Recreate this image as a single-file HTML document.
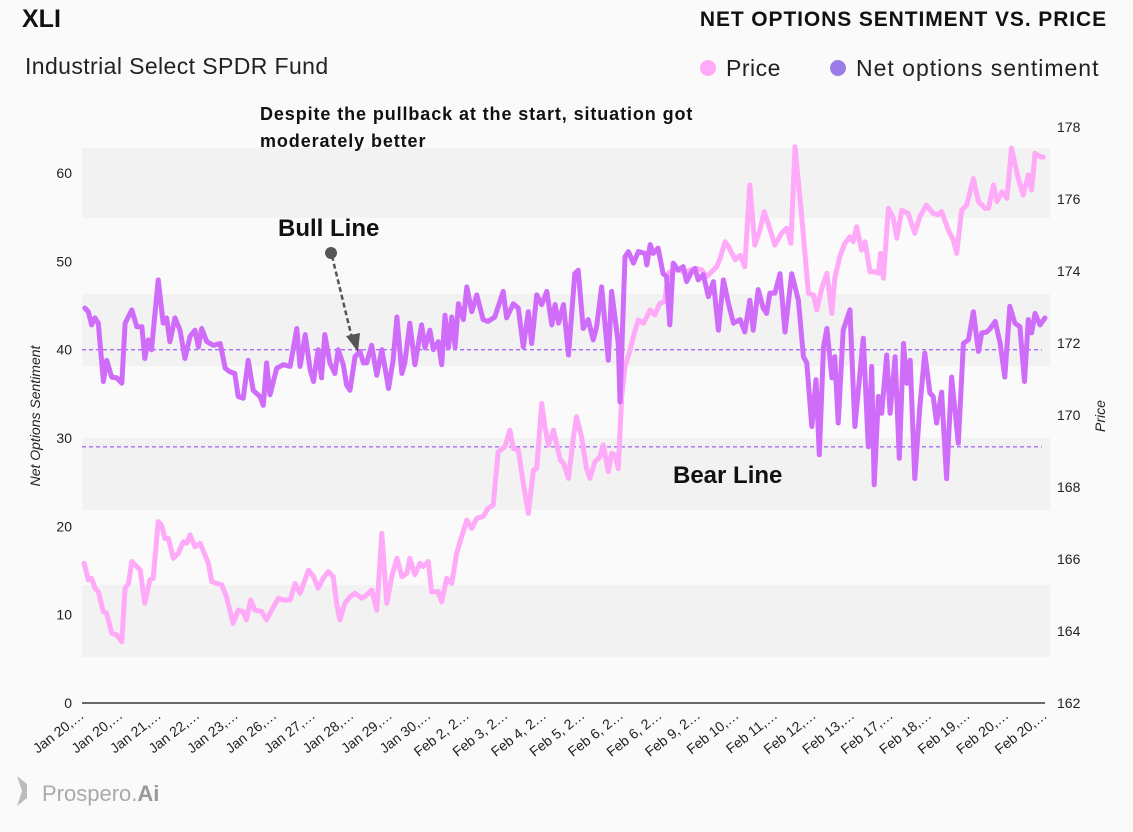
<!DOCTYPE html>
<html><head><meta charset="utf-8"><style>
body{margin:0;background:#fafafa;width:1133px;height:832px;overflow:hidden;font-family:"Liberation Sans",sans-serif}
svg{display:block}
</style></head><body>
<svg id="chart" width="1133" height="832" viewBox="0 0 1133 832" xmlns="http://www.w3.org/2000/svg">
<rect width="1133" height="832" fill="#fafafa"/>
<g id="bands">
<rect x="82" y="148" width="968" height="70" fill="#f2f2f2"/>
<rect x="82" y="294" width="968" height="72" fill="#f2f2f2"/>
<rect x="82" y="438" width="968" height="72" fill="#f2f2f2"/>
<rect x="82" y="585" width="968" height="72" fill="#f2f2f2"/>
</g>
<text x="22" y="27" font-size="25" font-weight="bold" fill="#111">XLI</text>
<text x="25" y="74" font-size="23" letter-spacing="0.4" fill="#222">Industrial Select SPDR Fund</text>
<text x="1107" y="26" font-size="21" font-weight="bold" letter-spacing="0.9" fill="#111" text-anchor="end">NET OPTIONS SENTIMENT VS. PRICE</text>
<g>
<circle cx="708" cy="68" r="8" fill="#ffaaf8"/>
<text x="726" y="76" font-size="23" letter-spacing="0.5" fill="#222">Price</text>
<circle cx="838" cy="68" r="8" fill="#9b7be8"/>
<text x="856" y="76" font-size="23" letter-spacing="1" fill="#222">Net options sentiment</text>
</g>
<text font-size="18" font-weight="bold" letter-spacing="0.9" fill="#111"><tspan x="260" y="120">Despite the pullback at the start, situation got</tspan><tspan x="260" y="147">moderately better</tspan></text>
<text transform="translate(40,416) rotate(-90)" font-size="14" font-style="italic" fill="#222" text-anchor="middle">Net Options Sentiment</text>
<text transform="translate(1105,416) rotate(-90)" font-size="14" font-style="italic" fill="#222" text-anchor="middle">Price</text>
<g id="axes"></g>
<g id="lines"></g>
<g id="annots"></g>
<g>
<path d="M17 776 L27 784 L27 798 L17 806 L22 791 Z" fill="#bbb"/>
<text x="42" y="801" font-size="22" fill="#aaa">Prospero.<tspan font-weight="bold" fill="#999">Ai</tspan></text>
</g>
</svg>
<script>
const xLabels=["Jan 20,…","Jan 20,…","Jan 21,…","Jan 22,…","Jan 23,…","Jan 26,…","Jan 27,…","Jan 28,…","Jan 29,…","Jan 30,…","Feb 2, 2…","Feb 3, 2…","Feb 4, 2…","Feb 5, 2…","Feb 6, 2…","Feb 6, 2…","Feb 9, 2…","Feb 10,…","Feb 11,…","Feb 12,…","Feb 13,…","Feb 17,…","Feb 18,…","Feb 19,…","Feb 20,…","Feb 20,…"];
const leftTicks=[0,10,20,30,40,50,60];
const rightTicks=[162,164,166,168,170,172,174,176,178];
const bullLine=40;
const bearLine=29;
const sentT=[.07,.15,.23,.31,.39,.51,.59,.71,.83,.95,1.03,1.19,1.31,1.43,1.50,1.58,1.66,1.82,1.94,2.02,2.10,2.22,2.34,2.46,2.58,2.70,2.78,2.86,2.98,3.14,3.30,3.42,3.53,3.65,3.73,3.85,3.97,4.09,4.25,4.33,4.41,4.49,4.65,4.81,4.97,5.13,5.21,5.33,5.45,5.53,5.64,5.72,5.80,5.92,6.04,6.12,6.24,6.32,6.40,6.52,6.64,6.72,6.80,6.92,7.04,7.16,7.24,7.32,7.43,7.52,7.64,7.71,7.83,7.95,8.11,8.19,8.31,8.39,8.51,8.59,8.67,8.75,8.83,8.91,8.99,9.11,9.19,9.31,9.43,9.58,9.70,9.86,10.06,10.14,10.30,10.42,10.54,10.66,10.74,10.86,10.98,11.10,11.22,11.30,11.38,11.50,11.62,11.77,11.85,11.97,12.09,12.21,12.29,12.41,12.57,12.65,12.81,12.85,12.97,13.05,13.17,13.29,13.45,13.49,13.57,13.64,13.76,13.88,13.96,14.04,14.12,14.24,14.36,14.44,14.56,14.64,14.72,14.84,14.96,15.08,15.20,15.32,15.44,15.56,15.72,15.83,15.95,16.03,16.15,16.27,16.35,16.43,16.55,16.67,16.79,16.95,17.11,17.23,17.31,17.43,17.53,17.61,17.71,17.79,17.91,17.98,18.06,18.18,18.34,18.46,18.66,18.78,18.86,18.92,19.02,19.10,19.22,19.30,19.42,19.52,19.62,19.70,19.78,19.89,20.01,20.13,20.25,20.33,20.41,20.53,20.65,20.77,20.93,21.05,21.17,21.29,21.41,21.49,21.61,21.69,21.81,21.93,22.04,22.16,22.28,22.40,22.51,22.60,22.68,22.76,22.88,23.00];
const sentV=[44.7,44.3,42.8,43.6,43.0,36.4,38.8,36.9,36.8,36.2,43.0,44.5,42.6,42.6,39.0,41.1,40.0,47.9,43.0,43.6,40.9,43.6,42.2,39.0,41.5,42.2,40.3,42.4,40.9,40.5,40.7,37.9,37.5,37.3,34.7,34.5,38.8,35.4,34.7,33.7,38.5,34.9,37.9,38.3,38.1,42.4,38.1,41.7,37.7,36.4,40.0,36.8,41.7,38.5,37.3,40.0,38.3,36.0,35.4,39.2,39.8,38.5,38.5,40.5,37.1,40.0,37.9,35.6,38.8,43.7,37.3,38.5,43.0,38.3,42.8,40.2,42.2,40.0,40.9,38.3,43.9,40.2,43.7,40.3,45.2,43.4,47.1,44.3,46.2,43.4,43.2,43.7,46.6,43.6,45.2,44.7,40.3,44.3,40.7,46.2,45.1,46.6,42.8,45.1,43.0,45.1,39.4,48.6,49.0,42.4,43.4,41.1,42.6,47.1,38.8,46.6,40.7,34.1,50.5,51.1,49.8,51.1,50.9,49.6,51.9,50.9,51.5,48.6,48.3,42.8,49.8,49.0,49.4,47.7,48.8,49.2,47.9,48.5,46.0,47.7,42.2,47.9,45.2,43.0,43.4,42.0,45.6,42.2,46.8,44.7,44.1,46.4,46.4,48.6,42.0,48.6,45.6,39.2,38.5,31.3,36.6,28.1,40.3,42.4,36.8,39.2,31.7,42.2,44.5,31.3,41.3,29.0,38.1,24.7,34.7,32.8,39.4,32.8,39.2,27.7,40.7,36.2,38.8,25.4,33.5,39.6,35.1,34.7,31.7,35.2,25.4,36.9,29.4,40.7,41.1,44.3,39.8,41.9,42.0,42.4,43.2,40.7,36.9,44.9,43.0,42.6,36.4,43.4,41.9,44.1,42.8,43.6];
const priceT=[.05,.15,.23,.31,.39,.51,.59,.71,.83,.95,1.03,1.11,1.19,1.31,1.39,1.50,1.62,1.70,1.82,1.90,1.98,2.06,2.18,2.30,2.42,2.50,2.58,2.70,2.82,3.02,3.10,3.22,3.34,3.45,3.61,3.73,3.85,3.93,4.03,4.13,4.29,4.41,4.53,4.69,4.81,4.97,5.09,5.21,5.41,5.53,5.64,5.76,5.88,6.00,6.08,6.16,6.28,6.40,6.52,6.68,6.80,6.92,7.04,7.16,7.28,7.40,7.52,7.64,7.76,7.83,7.95,8.07,8.15,8.27,8.35,8.51,8.59,8.71,8.83,8.95,9.03,9.19,9.31,9.43,9.58,9.70,9.82,9.94,10.10,10.22,10.30,10.42,10.54,10.66,10.78,10.86,10.98,11.06,11.14,11.26,11.42,11.50,11.62,11.74,11.81,11.93,12.05,12.13,12.25,12.37,12.45,12.57,12.65,12.73,12.81,12.89,12.97,13.09,13.21,13.29,13.41,13.57,13.68,13.80,13.92,14.00,14.12,14.28,14.40,14.52,14.68,14.80,14.92,15.04,15.16,15.24,15.36,15.44,15.60,15.72,15.83,15.95,16.07,16.19,16.29,16.39,16.55,16.71,16.83,16.93,17.03,17.19,17.35,17.47,17.55,17.67,17.79,17.91,17.98,18.10,18.22,18.34,18.42,18.50,18.62,18.70,18.82,18.94,19.02,19.07,19.14,19.26,19.38,19.46,19.58,19.73,19.89,20.01,20.17,20.33,20.45,20.53,20.69,20.81,20.89,21.01,21.13,21.29,21.41,21.57,21.65,21.77,21.85,21.97,22.09,22.20,22.36,22.48,22.60,22.68,22.76,22.88,22.96];
const priceV=[165.88,165.42,165.46,165.19,165.09,164.54,164.49,163.94,163.89,163.70,165.19,165.32,165.93,165.79,165.69,164.77,165.42,165.46,167.04,166.94,166.57,166.57,166.02,166.16,166.48,166.44,166.67,166.34,166.44,165.88,165.37,165.32,165.28,164.95,164.21,164.58,164.54,164.31,164.86,164.58,164.54,164.31,164.58,164.91,164.86,164.86,165.32,165.05,165.69,165.51,165.19,165.46,165.65,165.51,164.77,164.31,164.77,164.95,165.05,164.91,165.00,165.14,164.58,166.71,164.77,165.51,166.02,165.51,165.60,166.02,165.56,165.88,165.79,165.93,165.09,165.09,164.81,165.46,165.32,166.16,166.48,167.08,166.85,167.13,167.18,167.41,167.50,168.98,169.12,169.58,169.07,169.03,168.10,167.27,168.47,168.51,170.32,169.63,169.17,169.58,168.75,168.66,168.24,169.40,169.95,169.40,168.51,168.24,168.70,168.84,169.17,168.43,168.94,168.89,168.51,170.51,171.34,171.81,172.36,172.64,172.55,172.92,172.78,173.10,173.15,173.94,174.03,174.03,173.94,174.03,174.07,174.03,173.84,173.98,174.12,174.35,174.81,174.68,174.31,174.44,174.12,176.39,174.72,175.14,175.65,175.32,174.72,175.05,175.19,174.77,177.45,175.51,173.38,173.33,172.92,173.52,173.94,172.82,173.80,174.40,174.77,174.95,174.81,175.23,174.58,174.81,173.98,173.98,173.94,174.49,173.80,175.74,175.46,174.91,175.69,175.60,175.05,175.51,175.83,175.60,175.56,175.65,175.14,174.86,174.49,175.69,175.83,176.57,175.93,175.74,175.74,176.39,175.93,176.20,176.02,177.41,176.57,176.11,176.67,176.25,177.27,177.18,177.16];

const NS="http://www.w3.org/2000/svg";
const X0=82,X1=1045,Y0=703;
function xs(t){return X0+(X1-X0)*t/23;}
function yl(v){return Y0-v*(Y0-173)/60;}
function yr(p){return Y0-(p-162)*(Y0-127)/16;}
function mk(tag,attrs,parent){const e=document.createElementNS(NS,tag);for(const k in attrs)e.setAttribute(k,attrs[k]);parent.appendChild(e);return e;}
const axes=document.getElementById('axes'),lines=document.getElementById('lines'),ann=document.getElementById('annots');

leftTicks.forEach(v=>{const t=mk('text',{x:72,y:yl(v)+5,'font-size':14,fill:'#222','text-anchor':'end'},axes);t.textContent=v;

});
rightTicks.forEach(v=>{const t=mk('text',{x:1057,y:yr(v)+5,'font-size':14,fill:'#222'},axes);t.textContent=v;

});
const ax=mk('line',{x1:X0,x2:X1,y1:Y0,y2:Y0,stroke:'#111','stroke-width':1.2},axes);


xLabels.forEach((l,i)=>{const xx=X0+i*(X1-X0)/(xLabels.length-1);
const t=mk('text',{x:0,y:0,'font-size':14,fill:'#222','text-anchor':'end',transform:`translate(${xx+3},${Y0+14}) rotate(-38)`},axes);t.textContent=l;

});

[[bullLine,'bull-line'],[bearLine,'bear-line']].forEach(([v,n])=>{const l=mk('line',{x1:X0,x2:1042,y1:yl(v),y2:yl(v),stroke:'#a66cf5','stroke-width':1.3,'stroke-dasharray':'4 3'},lines);

});

const pp=mk('polyline',{points:priceT.map((t,i)=>xs(t).toFixed(1)+','+yr(priceV[i]).toFixed(1)).join(' '),fill:'none',stroke:'#ffaaf8','stroke-width':5,'stroke-linejoin':'round','stroke-linecap':'round'},lines);


const sp=mk('polyline',{points:sentT.map((t,i)=>xs(t).toFixed(1)+','+yl(sentV[i]).toFixed(1)).join(' '),fill:'none',stroke:'#d06cfa','stroke-width':5,'stroke-linejoin':'round','stroke-linecap':'round'},lines);



const bt=mk('text',{x:278,y:236,'font-size':24,'font-weight':'bold',fill:'#111'},ann);bt.textContent='Bull Line';


const dot=mk('circle',{cx:331,cy:253,r:6,fill:'#555'},ann);


const ar=mk('line',{x1:332,y1:256,x2:352,y2:338,stroke:'#555','stroke-width':2.5,'stroke-dasharray':'5 3'},ann);


const ah=mk('polygon',{points:'346,336 360,333 358,352',fill:'#555'},ann);


const brt=mk('text',{x:673,y:483,'font-size':24,'font-weight':'bold',fill:'#111'},ann);brt.textContent='Bear Line';


</script>
</body></html>
